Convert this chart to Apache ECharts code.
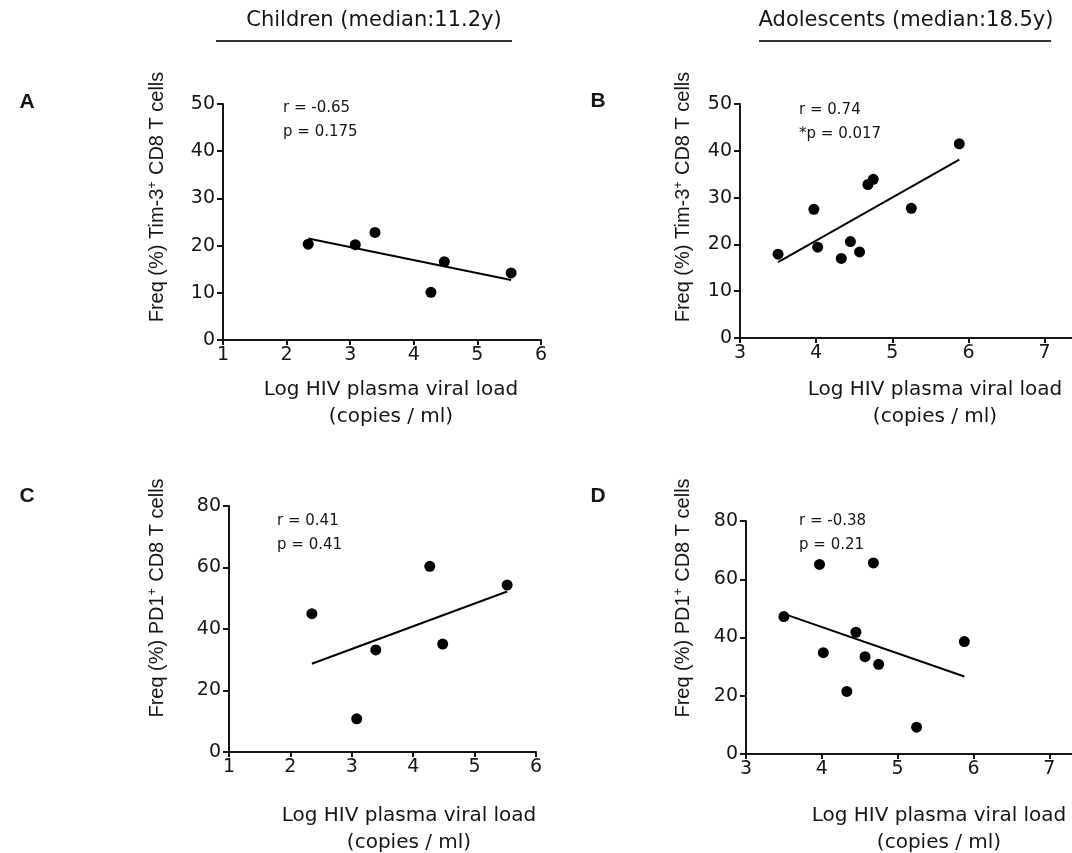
<!DOCTYPE html>
<html>
<head>
<meta charset="utf-8">
<script src="https://cdn.jsdelivr.net/npm/echarts@6/dist/echarts.min.js"></script>
<style>
html,body{margin:0;padding:0;background:#fff;}
#chart{width:1072px;height:853px;}
</style>
</head>
<body>
<div id="chart"></div>
<script>
// ---- Data ----
// Panel A: children, Tim-3+ CD8 T cells vs log viral load
var childrenTimX = [2.34, 3.08, 3.39, 4.27, 4.48, 5.53];
var childrenTimY = [20.3, 20.2, 22.8, 10.1, 16.6, 14.2];
var childrenTimFit = [[2.34, 21.5], [5.53, 12.7]];
// Panel B: adolescents, Tim-3+
var adolTimX = [3.50, 3.97, 4.02, 4.33, 4.45, 4.57, 4.68, 4.75, 5.25, 5.88];
var adolTimY = [17.9, 27.5, 19.4, 17.0, 20.6, 18.4, 32.8, 33.9, 27.7, 41.5];
var adolTimFit = [[3.50, 16.2], [5.88, 38.1]];
// Panel C: children, PD1+
var childrenPdX = [2.35, 3.08, 3.39, 4.27, 4.48, 5.53];
var childrenPdY = [45.0, 10.8, 33.2, 60.4, 35.1, 54.3];
var childrenPdFit = [[2.35, 28.7], [5.53, 52.2]];
// Panel D: adolescents, PD1+
var adolPdX = [3.50, 3.97, 4.02, 4.33, 4.45, 4.57, 4.68, 4.75, 5.25, 5.88];
var adolPdY = [47.2, 65.1, 34.8, 21.5, 41.8, 33.4, 65.6, 30.8, 9.2, 38.6];
var adolPdFit = [[3.50, 48.1], [5.88, 26.6]];

var xTicksChildren = [1, 2, 3, 4, 5, 6];
var xTicksAdol = [3, 4, 5, 6, 7];
var yTicksTim = [0, 10, 20, 30, 40, 50];
var yTicksPd = [0, 20, 40, 60, 80];

var groupTitles = ['Children (median:11.2y)', 'Adolescents (median:18.5y)'];
var panelLetters = ['A', 'B', 'C', 'D'];
var stats = [['r = -0.65', 'p = 0.175'], ['r = 0.74', '*p = 0.017'], ['r = 0.41', 'p = 0.41'], ['r = -0.38', 'p = 0.21']];
var xName1 = 'Log HIV plasma viral load';
var xName2 = '(copies / ml)';

// ---- Chart ----
var INK = '#161616';
var TICKFONT = 'DejaVu Sans';
function pairs(xs, ys) { return xs.map(function (x, i) { return [x, ys[i]]; }); }

var grids = [
  {left: 223, top: 104, width: 318, height: 236},
  {left: 740, top: 104, width: 332, height: 234},
  {left: 229, top: 506, width: 307, height: 246},
  {left: 746, top: 521, width: 333, height: 233}
];

function xAxis(idx, ticks, max) {
  return {
    gridIndex: idx, type: 'value', min: ticks[0], max: max, interval: 1,
    axisLine: {show: true, onZero: false, lineStyle: {color: INK, width: 2}},
    axisTick: {show: true, length: 5, customValues: ticks, lineStyle: {color: INK, width: 2}},
    axisLabel: {customValues: ticks, fontFamily: TICKFONT, fontSize: 19, color: INK, margin: 6},
    splitLine: {show: false}
  };
}
function yAxis(idx, ticks) {
  return {
    gridIndex: idx, type: 'value', min: ticks[0], max: ticks[ticks.length - 1], interval: ticks[1] - ticks[0],
    axisLine: {show: true, onZero: false, lineStyle: {color: INK, width: 2}},
    axisTick: {show: true, length: 6, lineStyle: {color: INK, width: 2}},
    axisLabel: {fontFamily: TICKFONT, fontSize: 19, color: INK, margin: 8},
    splitLine: {show: false}
  };
}

function scatter(idx, data) {
  return {type: 'scatter', xAxisIndex: idx, yAxisIndex: idx, data: data, symbolSize: 11,
    itemStyle: {color: '#000', opacity: 1}, silent: true, z: 3};
}
function fit(idx, data) {
  return {type: 'line', xAxisIndex: idx, yAxisIndex: idx, data: data, symbol: 'none',
    lineStyle: {color: '#000', width: 2}, silent: true, z: 2};
}

var graphics = [];
function txt(x, y, text, size, opts) {
  opts = opts || {};
  graphics.push({type: 'text', x: x, y: y, rotation: opts.rot || 0, silent: true,
    style: {text: text, fill: INK, font: (opts.bold ? 'bold ' : '') + size + 'px ' + (opts.family || '"DejaVu Sans"'),
      align: opts.align || 'center', verticalAlign: 'middle', rich: opts.rich}});
}
function hline(x1, x2, y) {
  graphics.push({type: 'line', silent: true, shape: {x1: x1, y1: y, x2: x2, y2: y},
    style: {stroke: '#333', lineWidth: 2}});
}

// group titles
txt(374, 21, groupTitles[0], 21);
hline(216, 512, 41);
txt(906, 21, groupTitles[1], 21);
hline(759, 1051, 41);

// panel letters
txt(27, 102, panelLetters[0], 21, {bold: true, family: '"Liberation Sans"'});
txt(598, 101, panelLetters[1], 21, {bold: true, family: '"Liberation Sans"'});
txt(27, 496, panelLetters[2], 21, {bold: true, family: '"Liberation Sans"'});
txt(598, 496, panelLetters[3], 21, {bold: true, family: '"Liberation Sans"'});

// y axis titles (rotated, with superscript +)
var yRich = {
  a: {fontSize: 20, fontFamily: 'Liberation Sans', fill: INK},
  s: {fontSize: 12, fontFamily: 'Liberation Sans', fill: INK, verticalAlign: 'top', padding: [0, 1, 0, 0]}
};
txt(157, 197, '{a|Freq (%) Tim-3}{s|+}{a| CD8 T cells}', 20, {rot: Math.PI / 2, rich: yRich, family: '"Liberation Sans"'});
txt(683, 197, '{a|Freq (%) Tim-3}{s|+}{a| CD8 T cells}', 20, {rot: Math.PI / 2, rich: yRich, family: '"Liberation Sans"'});
txt(157, 598, '{a|Freq (%) PD1}{s|+}{a| CD8 T cells}', 20, {rot: Math.PI / 2, rich: yRich, family: '"Liberation Sans"'});
txt(683, 598, '{a|Freq (%) PD1}{s|+}{a| CD8 T cells}', 20, {rot: Math.PI / 2, rich: yRich, family: '"Liberation Sans"'});

// x axis titles
txt(391, 390, xName1, 20); txt(391, 417, xName2, 20);
txt(935, 390, xName1, 20); txt(935, 417, xName2, 20);
txt(409, 816, xName1, 20); txt(409, 843, xName2, 20);
txt(939, 816, xName1, 20); txt(939, 843, xName2, 20);

// r / p annotations
var statPos = [[283, 108], [799, 110], [277, 521], [799, 521]];
statPos.forEach(function (p, i) {
  txt(p[0], p[1], stats[i][0], 15, {align: 'left'});
  txt(p[0], p[1] + 24, stats[i][1], 15, {align: 'left'});
});

var option = {
  backgroundColor: '#fff',
  animation: false,
  grid: grids,
  xAxis: [xAxis(0, xTicksChildren, 6), xAxis(1, xTicksAdol, 7.36), xAxis(2, xTicksChildren, 6), xAxis(3, xTicksAdol, 7.3)],
  yAxis: [yAxis(0, yTicksTim), yAxis(1, yTicksTim), yAxis(2, yTicksPd), yAxis(3, yTicksPd)],
  series: [
    fit(0, childrenTimFit), scatter(0, pairs(childrenTimX, childrenTimY)),
    fit(1, adolTimFit), scatter(1, pairs(adolTimX, adolTimY)),
    fit(2, childrenPdFit), scatter(2, pairs(childrenPdX, childrenPdY)),
    fit(3, adolPdFit), scatter(3, pairs(adolPdX, adolPdY))
  ],
  graphic: graphics
};
var chart = echarts.init(document.getElementById('chart'), null, {renderer: 'canvas'});
chart.setOption(option);
</script>
</body>
</html>
